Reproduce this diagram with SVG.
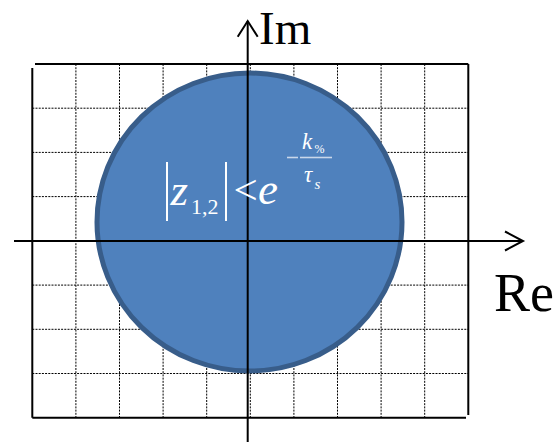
<svg xmlns="http://www.w3.org/2000/svg" width="553" height="442" viewBox="0 0 553 442">
<style>
.grid{stroke:#000;stroke-width:1;stroke-dasharray:2 1.2;fill:none}
.frame{stroke:#000;stroke-width:2;fill:none}
.axis{stroke:#000;stroke-width:2;fill:none}
.bar{stroke:#fff;stroke-width:2}
.frac{stroke:#c9d7ea;stroke-width:1.6}
</style>
<rect width="553" height="442" fill="#fff"/>
<g id="grid">
<path class="grid" d="M75.9 64V417.7M119.5 64V417.7M163.1 64V417.7M206.7 64V417.7M250.3 64V417.7M293.9 64V417.7M337.5 64V417.7M381.1 64V417.7M424.7 64V417.7"/>
<path class="grid" d="M32.3 108.2H468.3M32.3 152.4H468.3M32.3 196.6H468.3M32.3 240.9H468.3M32.3 285.1H468.3M32.3 329.3H468.3M32.3 373.5H468.3"/>
<path class="frame" d="M35 64H468.3M32.3 68V417.7M32.3 417.7H466M468.3 64V415"/>
</g>
<g id="region">
<ellipse cx="249.5" cy="222" rx="152.5" ry="149" fill="#4f81bd" stroke="#385d8a" stroke-width="5"/>
</g>
<g id="axes">
<path class="axis" d="M247.7 442V21"/>
<path class="axis" d="M237.7 36.7L247.7 21L257.7 36.7"/>
<path class="axis" d="M14 241H523"/>
<path class="axis" d="M505 231.5L523 241L505 250.5"/>
</g>
<g id="labels" font-family="'Liberation Serif', 'DejaVu Serif', serif" fill="#000">
<text x="259" y="43.5" font-size="47">Im</text>
<text x="494" y="311" font-size="54">Re</text>
</g>
<g id="formula" font-family="'Liberation Serif', 'DejaVu Serif', serif" fill="#fff">
<line class="bar" x1="167" y1="162" x2="167" y2="221"/>
<line class="bar" x1="226" y1="162" x2="226" y2="221"/>
<text x="170.5" y="205" font-size="45" font-style="italic">z</text>
<text x="191" y="214" font-size="22">1,2</text>
<text x="233.5" y="204" font-size="43">&lt;</text>
<text x="258" y="204" font-size="45" font-style="italic">e</text>
<line class="frac" x1="287" y1="157.5" x2="298" y2="157.5"/>
<line class="frac" x1="300" y1="157.5" x2="332" y2="157.5"/>
<text x="302" y="149" font-size="23" font-style="italic">k</text>
<text x="314.5" y="153" font-size="12">%</text>
<text x="304" y="182" font-size="23" font-style="italic">τ</text>
<text x="314.5" y="189" font-size="15" font-style="italic">s</text>
</g>
</svg>
